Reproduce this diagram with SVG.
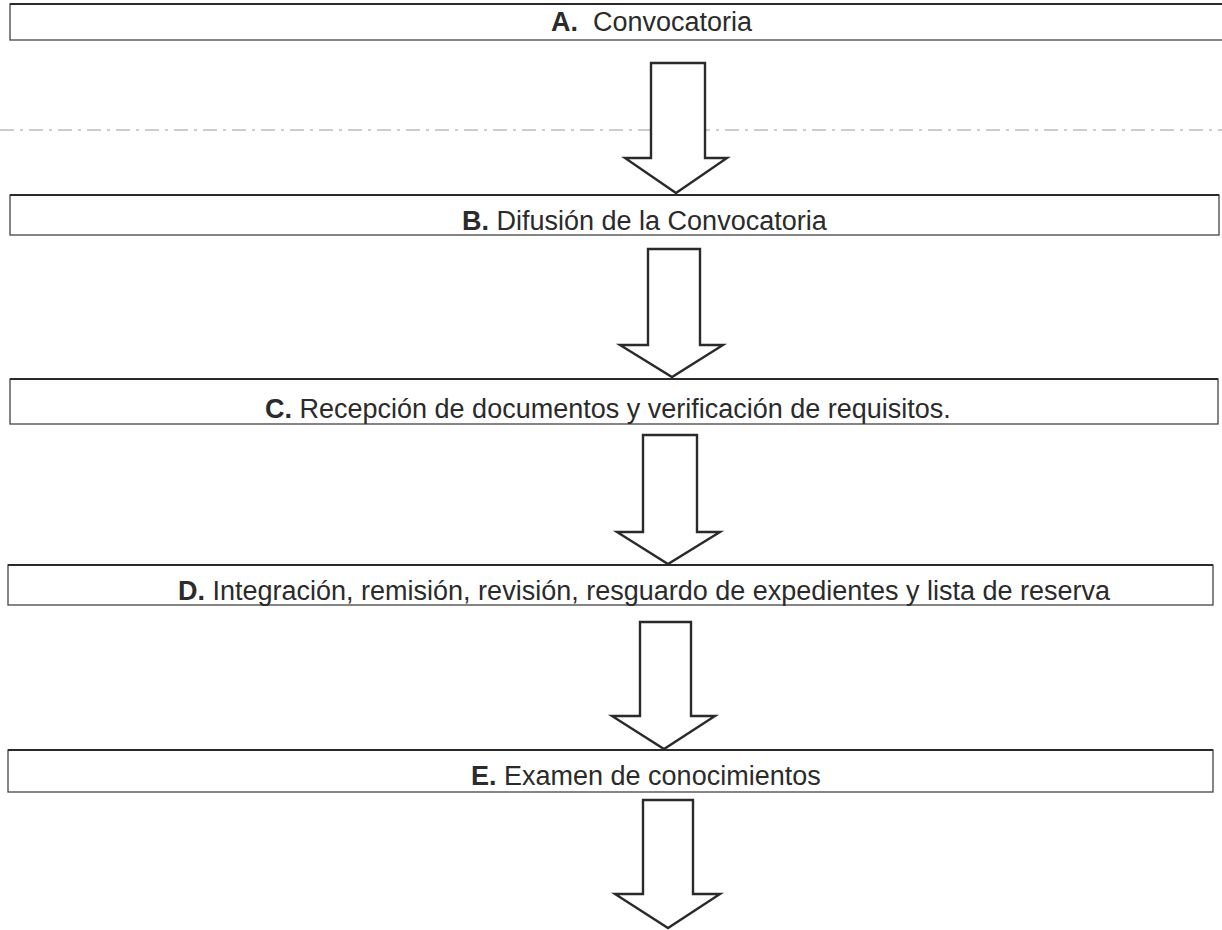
<svg xmlns="http://www.w3.org/2000/svg" width="1222" height="930" viewBox="0 0 1222 930">
<style>
.box{fill:#fff;stroke:#444;stroke-width:1.3}
.top{stroke:#2a2a2a;stroke-width:2.2}
.arr{fill:#fff;stroke:#2a2a2a;stroke-width:2.4;stroke-linejoin:miter}
.t{font-family:"Liberation Sans",Arial,sans-serif;font-size:27px;fill:#2b2b2b}
.b{font-weight:bold}
.scan{stroke:#9a9a9a;stroke-width:1;stroke-dasharray:14 6 3 6;fill:none}
</style>
<rect width="1222" height="930" fill="#fff"/>
<line class="scan" x1="0" y1="130" x2="1222" y2="130"/>
<g id="connectors">
<polygon class="arr" points="651,63 705,63 705,158 727,158 676,193 625,158 651,158"/>
<polygon class="arr" points="648,249 700,249 700,345 723,345 672,377 620,345 648,345"/>
<polygon class="arr" points="643,435 697,435 697,532 720,532 668,564 617,532 643,532"/>
<polygon class="arr" points="640,622 691,622 691,716 715,716 664,749 612,716 640,716"/>
<polygon class="arr" points="643,800 693,800 693,894 720,894 668,928 615,894 643,894"/>
</g>
<g id="nodeA">
<rect class="box" x="10" y="4" width="1220" height="36"/>
<line class="top" x1="10" y1="4" x2="1222" y2="4"/>
<text class="t" x="551" y="31"><tspan class="b">A.</tspan><tspan x="593">Convocatoria</tspan></text>
</g>
<g id="nodeB">
<rect class="box" x="10" y="195" width="1209" height="40"/>
<line class="top" x1="10" y1="195" x2="1219" y2="195"/>
<text class="t" x="462" y="230"><tspan class="b">B.</tspan> Difusión de la Convocatoria</text>
</g>
<g id="nodeC">
<rect class="box" x="10" y="379" width="1208" height="45"/>
<line class="top" x1="10" y1="379" x2="1218" y2="379"/>
<text class="t" x="265" y="418"><tspan class="b">C.</tspan> Recepción de documentos y verificación de requisitos.</text>
</g>
<g id="nodeD">
<rect class="box" x="8" y="565" width="1205" height="40"/>
<line class="top" x1="8" y1="565" x2="1213" y2="565"/>
<text class="t" x="178" y="600"><tspan class="b">D.</tspan> Integración, remisión, revisión, resguardo de expedientes y lista de reserva</text>
</g>
<g id="nodeE">
<rect class="box" x="8" y="750" width="1205" height="42"/>
<line class="top" x1="8" y1="750" x2="1213" y2="750"/>
<text class="t" x="471" y="785"><tspan class="b">E.</tspan> Examen de conocimientos</text>
</g>
</svg>
